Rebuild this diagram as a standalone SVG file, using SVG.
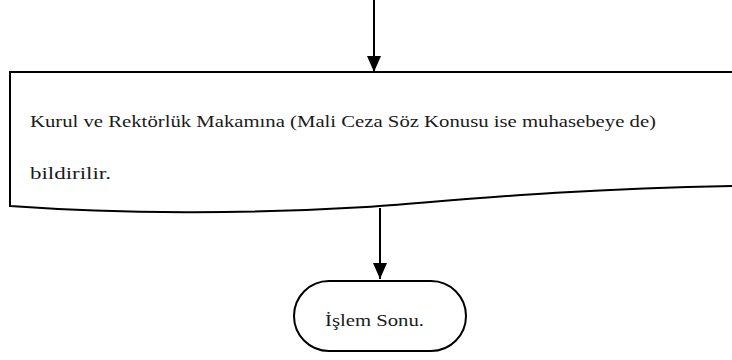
<svg xmlns="http://www.w3.org/2000/svg" width="732" height="360" viewBox="0 0 732 360">
<defs>
<style>
.shape{fill:#fff;stroke:#000;stroke-width:2}
.conn{fill:none;stroke:#000;stroke-width:2}
text{font-family:'Liberation Serif',serif;font-size:16px;fill:#1a1a1a}
</style>
<marker id="arrow" viewBox="0 0 16 14" refX="16" refY="7" markerWidth="16" markerHeight="14" markerUnits="userSpaceOnUse" orient="auto">
<path d="M0,0 L16,7 L0,14 Z" fill="#000"/>
</marker>
</defs>
<rect width="732" height="360" fill="#fff"/>
<g id="connectors">
<line class="conn" x1="374" y1="0" x2="374" y2="72" marker-end="url(#arrow)"/>
<line class="conn" x1="380" y1="208" x2="380" y2="279" marker-end="url(#arrow)"/>
</g>
<g id="document">
<path class="shape" d="M10,72 L745,72 L745,186 L732,186 C560,189 450,201 366,207 C250,214 120,214 10,206 Z"/>
<text x="30" y="127" textLength="626" lengthAdjust="spacingAndGlyphs">Kurul ve Rektörlük Makamına (Mali Ceza Söz Konusu ise muhasebeye de)</text>
<text x="30" y="179" textLength="81" lengthAdjust="spacingAndGlyphs">bildirilir.</text>
</g>
<g id="end">
<rect class="shape" x="294" y="281" width="172" height="70" rx="35" ry="35"/>
<text x="325" y="326" textLength="99" lengthAdjust="spacingAndGlyphs">İşlem Sonu.</text>
</g>
</svg>
